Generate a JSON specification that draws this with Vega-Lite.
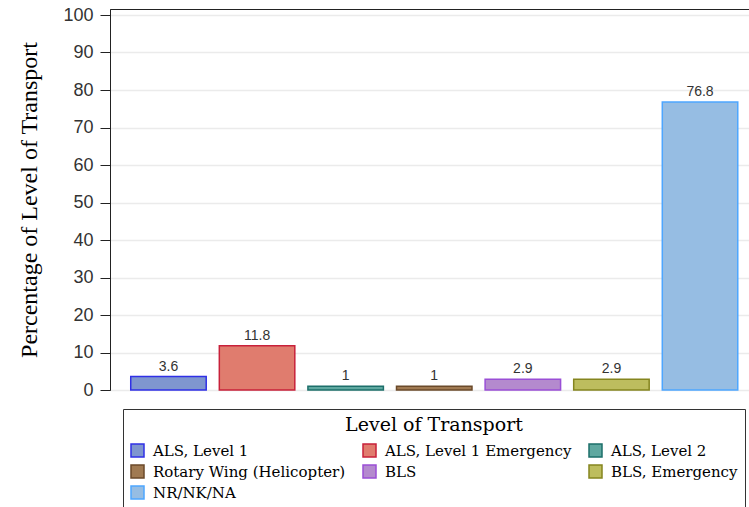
{
  "$schema": "https://vega.github.io/schema/vega-lite/v6.json",
  "autosize": "none",
  "width": 639,
  "height": 381,
  "padding": {"left": 110, "top": 9, "right": 0, "bottom": 117},
  "background": "white",
  "config": {
    "view": {"stroke": "#222", "strokeWidth": 1}
  },
  "data": {
    "values": [
      {"level": "ALS, Level 1", "pct": 3.6},
      {"level": "ALS, Level 1 Emergency", "pct": 11.8},
      {"level": "ALS, Level 2", "pct": 1},
      {"level": "Rotary Wing (Helicopter)", "pct": 1},
      {"level": "BLS", "pct": 2.9},
      {"level": "BLS, Emergency", "pct": 2.9},
      {"level": "NR/NK/NA", "pct": 76.8}
    ]
  },
  "encoding": {
    "x": {
      "field": "level",
      "type": "nominal",
      "sort": null,
      "axis": null,
      "scale": {"range": [0, 648.5], "paddingInner": 0.148, "paddingOuter": 0.234}
    },
    "y": {
      "field": "pct",
      "type": "quantitative",
      "scale": {"domain": [0, 101.6], "nice": false},
      "axis": {
        "title": "Percentage of Level of Transport",
        "titleFont": "Liberation Serif",
        "titleFontSize": 24,
        "titleFontWeight": "normal",
        "titleColor": "#000",
        "titlePadding": 21,
        "values": [0, 10, 20, 30, 40, 50, 60, 70, 80, 90, 100],
        "labelFont": "Liberation Sans",
        "labelFontSize": 18,
        "labelColor": "#333",
        "labelPadding": 7,
        "tickSize": 10,
        "tickColor": "#222",
        "domainColor": "#222",
        "grid": true,
        "gridColor": "#EBEBEB",
        "gridWidth": 1.5
      }
    }
  },
  "layer": [
    {
      "mark": {"type": "bar", "strokeWidth": 1.5},
      "encoding": {
        "fill": {
          "field": "level",
          "type": "nominal",
          "sort": null,
          "scale": {
            "domain": ["ALS, Level 1", "ALS, Level 1 Emergency", "ALS, Level 2", "Rotary Wing (Helicopter)", "BLS", "BLS, Emergency", "NR/NK/NA"],
            "range": ["#7F96CF", "#E07C6E", "#5FA8A0", "#A07A52", "#B48ACE", "#BDBD5E", "#96BDE3"]
          },
          "legend": {
            "title": "Level of Transport",
            "orient": "none",
            "legendX": 13,
            "legendY": 400,
            "columns": 3,
            "direction": "horizontal",
            "titleFont": "DejaVu Serif",
            "titleFontSize": 19,
            "titleFontWeight": "normal",
            "titleColor": "#000",
            "titleAnchor": "middle",
            "titlePadding": 8,
            "labelFont": "DejaVu Serif",
            "labelFontSize": 15,
            "labelColor": "#000",
            "labelOffset": 8,
            "labelLimit": 400,
            "symbolType": "square",
            "symbolSize": 169,
            "symbolStrokeWidth": 1.5,
            "columnPadding": 14,
            "rowPadding": 2,
            "padding": 7,
            "strokeColor": "#333",
            "fillColor": "white"
          }
        },
        "stroke": {
          "field": "level",
          "type": "nominal",
          "sort": null,
          "scale": {
            "domain": ["ALS, Level 1", "ALS, Level 1 Emergency", "ALS, Level 2", "Rotary Wing (Helicopter)", "BLS", "BLS, Emergency", "NR/NK/NA"],
            "range": ["#3030E6", "#C8213A", "#1D6F6A", "#6B4A2A", "#9A4FD6", "#85851F", "#4DA6FF"]
          },
          "legend": null
        }
      }
    },
    {
      "mark": {"type": "text", "baseline": "alphabetic", "dy": -6, "font": "Liberation Sans", "fontSize": 14, "color": "#333"},
      "encoding": {
        "text": {"field": "pct", "type": "quantitative"}
      }
    }
  ]
}
